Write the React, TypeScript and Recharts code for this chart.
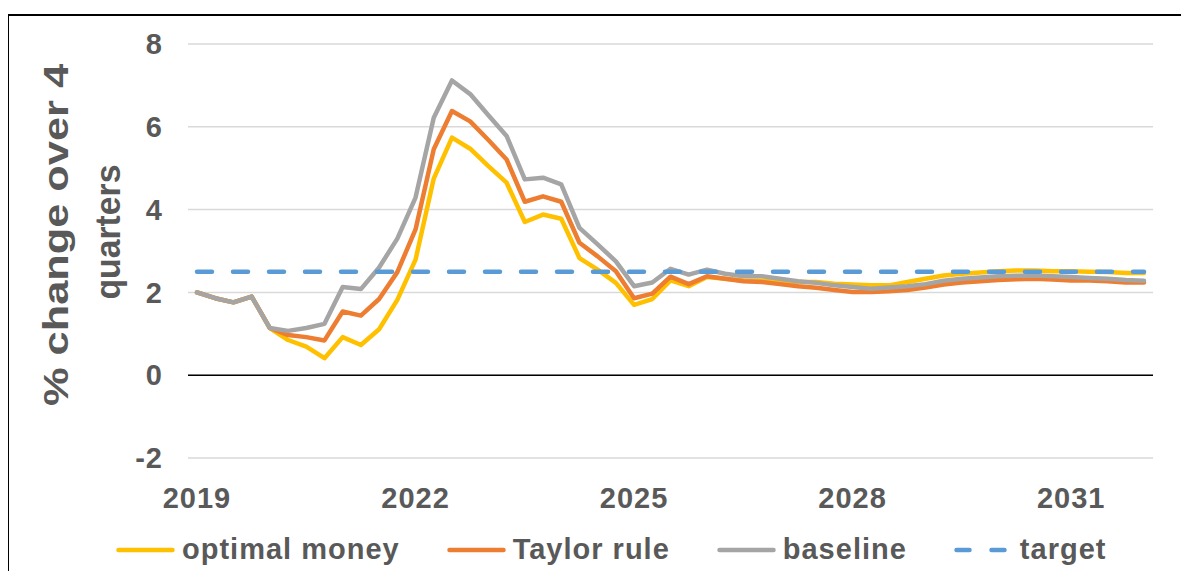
import React from "react";
import {CartesianGrid, Line, LineChart, ReferenceLine, XAxis, YAxis} from "recharts";

const quarters = [
  '2019Q1', '2019Q2', '2019Q3', '2019Q4', '2020Q1', '2020Q2', '2020Q3', '2020Q4',
  '2021Q1', '2021Q2', '2021Q3', '2021Q4', '2022Q1', '2022Q2', '2022Q3', '2022Q4',
  '2023Q1', '2023Q2', '2023Q3', '2023Q4', '2024Q1', '2024Q2', '2024Q3', '2024Q4',
  '2025Q1', '2025Q2', '2025Q3', '2025Q4', '2026Q1', '2026Q2', '2026Q3', '2026Q4',
  '2027Q1', '2027Q2', '2027Q3', '2027Q4', '2028Q1', '2028Q2', '2028Q3', '2028Q4',
  '2029Q1', '2029Q2', '2029Q3', '2029Q4', '2030Q1', '2030Q2', '2030Q3', '2030Q4',
  '2031Q1', '2031Q2', '2031Q3', '2031Q4', '2032Q1',
];

const optimalMoney = [
  2.00, 1.86, 1.76, 1.90, 1.14, 0.85, 0.69, 0.41, 0.92, 0.73, 1.11, 1.82, 2.79,
  4.75, 5.74, 5.47, 5.05, 4.65, 3.70, 3.88, 3.78, 2.83, 2.55, 2.23, 1.70, 1.84,
  2.29, 2.15, 2.37, 2.33, 2.29, 2.28, 2.28, 2.25, 2.25, 2.21, 2.19, 2.17, 2.17,
  2.25, 2.33, 2.41, 2.45, 2.48, 2.51, 2.53, 2.53, 2.51, 2.51, 2.50, 2.49, 2.47, 2.47,
];

const taylorRule = [
  2.00, 1.86, 1.76, 1.90, 1.14, 0.97, 0.92, 0.84, 1.54, 1.44, 1.84, 2.49, 3.52,
  5.46, 6.38, 6.13, 5.68, 5.21, 4.19, 4.32, 4.19, 3.20, 2.87, 2.51, 1.86, 1.97,
  2.38, 2.20, 2.39, 2.33, 2.27, 2.25, 2.20, 2.15, 2.11, 2.06, 2.01, 2.01, 2.03,
  2.06, 2.12, 2.19, 2.24, 2.27, 2.30, 2.32, 2.33, 2.31, 2.29, 2.29, 2.27, 2.24, 2.24,
];

const baseline = [
  2.00, 1.86, 1.76, 1.90, 1.14, 1.07, 1.14, 1.24, 2.13, 2.08, 2.60, 3.30, 4.29,
  6.22, 7.12, 6.79, 6.28, 5.78, 4.73, 4.77, 4.61, 3.56, 3.16, 2.75, 2.15, 2.24,
  2.57, 2.43, 2.55, 2.45, 2.39, 2.39, 2.33, 2.27, 2.23, 2.17, 2.13, 2.09, 2.12,
  2.15, 2.20, 2.28, 2.33, 2.36, 2.39, 2.40, 2.41, 2.39, 2.37, 2.35, 2.33, 2.30, 2.28,
];

const targetRate = 2.5;

const tickQuarters = ['2019Q1', '2022Q1', '2025Q1', '2028Q1', '2031Q1'];
const yTicks = [-2, 0, 2, 4, 6, 8];

const data = quarters.map((q, i) => ({
  q,
  optimal: optimalMoney[i],
  taylor: taylorRule[i],
  baseline: baseline[i],
  target: targetRate,
}));

const textColor = '#595959';
const fontFamily = '"Liberation Sans", Arial, sans-serif';

const legendItems = [
  {label: 'optimal money', color: '#FFC000', dashed: false},
  {label: 'Taylor rule', color: '#ED7D31', dashed: false},
  {label: 'baseline', color: '#A5A5A5', dashed: false},
  {label: 'target', color: '#5B9BD5', dashed: true},
];

const YTitle = (props: any) => {
  const vb = props.viewBox || {};
  const cy = vb.y + vb.height / 2 - 16;
  const style = {fontSize: 35, fontWeight: 700, fill: textColor, fontFamily};
  return <g>
    <text x={68} y={cy} transform={`rotate(-90, 68, ${cy})`} textAnchor="middle" style={style}
          textLength={342} lengthAdjust="spacingAndGlyphs">
      % change over 4
    </text>
    <text x={120} y={cy - 3} transform={`rotate(-90, 120, ${cy - 3})`} textAnchor="middle" style={style}
          textLength={135} lengthAdjust="spacingAndGlyphs">
      quarters
    </text>
  </g>
}

export default function App() {
  const tickStyle = {fontSize: 29, fontWeight: 700, fill: textColor, fontFamily, letterSpacing: 1};
  return (
    <div style={{position: 'relative', width: 1189, height: 579, margin: -8, background: '#fff', overflow: 'hidden'}}>
      <div style={{position: 'absolute', left: 0, top: 0}}>
        <LineChart width={1189} height={579} data={data} margin={{top: 44, right: 36, bottom: 61, left: 0}}>
          <CartesianGrid vertical={false} stroke="#D9D9D9" strokeWidth={1.5}/>
          <XAxis dataKey="q" ticks={tickQuarters} interval={0} tickFormatter={(v: string) => v.slice(0, 4)}
                 padding={{left: 9, right: 9}} axisLine={false} tickLine={false} tickSize={0} tickMargin={29}
                 height={60} tick={tickStyle}/>
          <YAxis domain={[-2, 8]} ticks={yTicks} width={188} axisLine={false} tickLine={false}
                 tickSize={0} tickMargin={25} tick={tickStyle} label={<YTitle/>}/>
          <ReferenceLine y={0} stroke="#000" strokeWidth={1.5}/>
          <Line dataKey="optimal" stroke="#FFC000" strokeWidth={4.5} dot={false} isAnimationActive={false}
                strokeLinejoin="round" strokeLinecap="round"/>
          <Line dataKey="taylor" stroke="#ED7D31" strokeWidth={4.5} dot={false} isAnimationActive={false}
                strokeLinejoin="round" strokeLinecap="round"/>
          <Line dataKey="baseline" stroke="#A5A5A5" strokeWidth={4.5} dot={false} isAnimationActive={false}
                strokeLinejoin="round" strokeLinecap="round"/>
          <Line dataKey="target" stroke="#5B9BD5" strokeWidth={4.5} dot={false} isAnimationActive={false}
                strokeDasharray="15 21" strokeLinecap="round"/>
        </LineChart>
      </div>
      <div style={{position: 'absolute', left: 7, top: 14, width: 1182, height: 2, background: '#000', zIndex: 2}}/>
      <div style={{position: 'absolute', left: 7, top: 14, width: 2, height: 565, background: '#000', zIndex: 2}}/>
      <div style={{position: 'absolute', left: 116, top: 533, display: 'flex', alignItems: 'center', gap: 47,
        fontFamily, fontSize: 29, fontWeight: 700, color: textColor, letterSpacing: 1, whiteSpace: 'nowrap'}}>
        {legendItems.map((item) => (
          <div key={item.label} style={{display: 'flex', alignItems: 'center', gap: 7}}>
            <svg width={59} height={10}>
              <line x1={2.5} y1={5} x2={56.5} y2={5} stroke={item.color} strokeWidth={4.5} strokeLinecap="round"
                    strokeDasharray={item.dashed ? '13 22' : undefined}/>
            </svg>
            <span>{item.label}</span>
          </div>
        ))}
      </div>
    </div>
  );
}
